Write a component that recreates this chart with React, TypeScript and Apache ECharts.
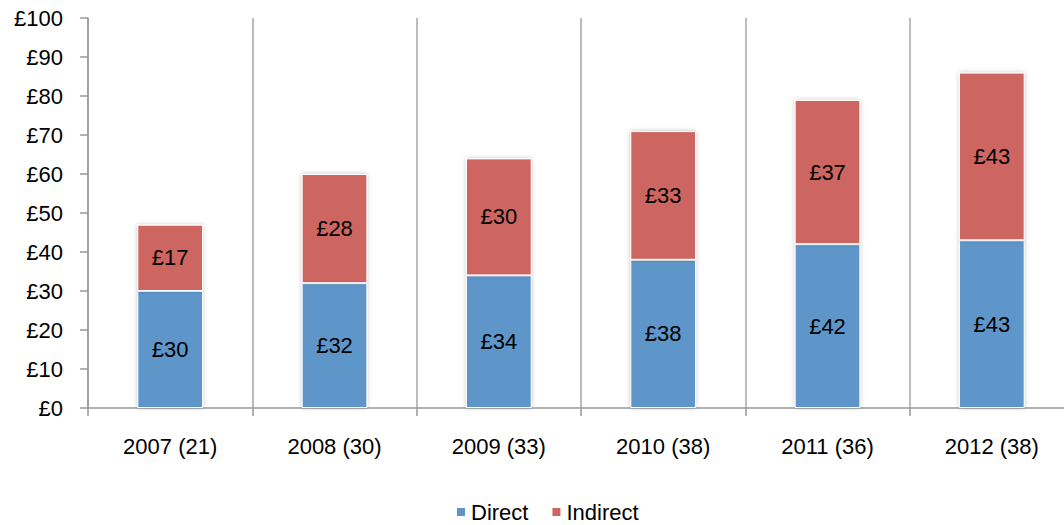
import React, { useEffect, useRef } from "react";
import * as echarts from "echarts";

const categories = ["2007 (21)", "2008 (30)", "2009 (33)", "2010 (38)", "2011 (36)", "2012 (38)"];
const directValues = [30, 32, 34, 38, 42, 43];
const indirectValues = [17, 28, 30, 33, 37, 43];
const seriesNames = ["Direct", "Indirect"];

const FONT = "'Liberation Sans', Arial, sans-serif";

export default function App() {
  const ref = useRef<HTMLDivElement>(null);
  useEffect(() => {
    if (!ref.current) return;
    const chart = echarts.init(ref.current, null, { renderer: "svg" });
    const barStyle = (color: string) => ({
      color,
      borderColor: "#ffffff",
      borderWidth: 1,
      shadowBlur: 4,
      shadowColor: "rgba(0,0,0,0.25)",
    });
    const label = {
      show: true,
      position: "inside",
      color: "#000",
      fontSize: 22,
      fontFamily: FONT,
      formatter: (p: any) => "£" + p.value,
    };
    chart.setOption({
      animation: false,
      textStyle: { fontFamily: FONT },
      grid: { left: 88, right: 6, top: 18, bottom: 117, containLabel: false, outerBoundsMode: "none" },
      legend: {
        data: seriesNames,
        left: 450,
        top: 496,
        icon: "rect",
        itemWidth: 10,
        itemHeight: 10,
        itemGap: 22,
        textStyle: { fontSize: 22, color: "#000", fontFamily: FONT },
      },
      xAxis: {
        type: "category",
        data: categories,
        boundaryGap: true,
        axisLine: { show: true, lineStyle: { color: "#999", width: 1.5 } },
        axisTick: { show: true, length: 8, lineStyle: { color: "#999", width: 1.5 } },
        splitLine: { show: true, lineStyle: { color: "#a6a6a6", width: 1.5 } },
        axisLabel: { fontSize: 22, color: "#000", margin: 27, fontFamily: FONT },
      },
      yAxis: {
        type: "value",
        min: 0,
        max: 100,
        interval: 10,
        axisLine: { show: true, lineStyle: { color: "#999", width: 1.5 } },
        axisTick: { show: true, length: 8, lineStyle: { color: "#999", width: 1.5 } },
        splitLine: { show: false },
        axisLabel: {
          fontSize: 22,
          color: "#000",
          margin: 25,
          fontFamily: FONT,
          formatter: (v: number) => "£" + v,
        },
      },
      series: [
        {
          name: seriesNames[0],
          type: "bar",
          stack: "total",
          barWidth: "40%",
          data: directValues,
          itemStyle: barStyle("#5F96CA"),
          label,
        },
        {
          name: seriesNames[1],
          type: "bar",
          stack: "total",
          barWidth: "40%",
          data: indirectValues,
          itemStyle: barStyle("#CD6661"),
          label,
        },
      ],
    });
    return () => chart.dispose();
  }, []);
  return (
    <div
      style={{
        position: "absolute",
        left: 0,
        top: 0,
        width: 1064,
        height: 525,
        overflow: "hidden",
        background: "#fff",
      }}
    >
      <div ref={ref} style={{ width: 1080, height: 525 }} />
    </div>
  );
}
